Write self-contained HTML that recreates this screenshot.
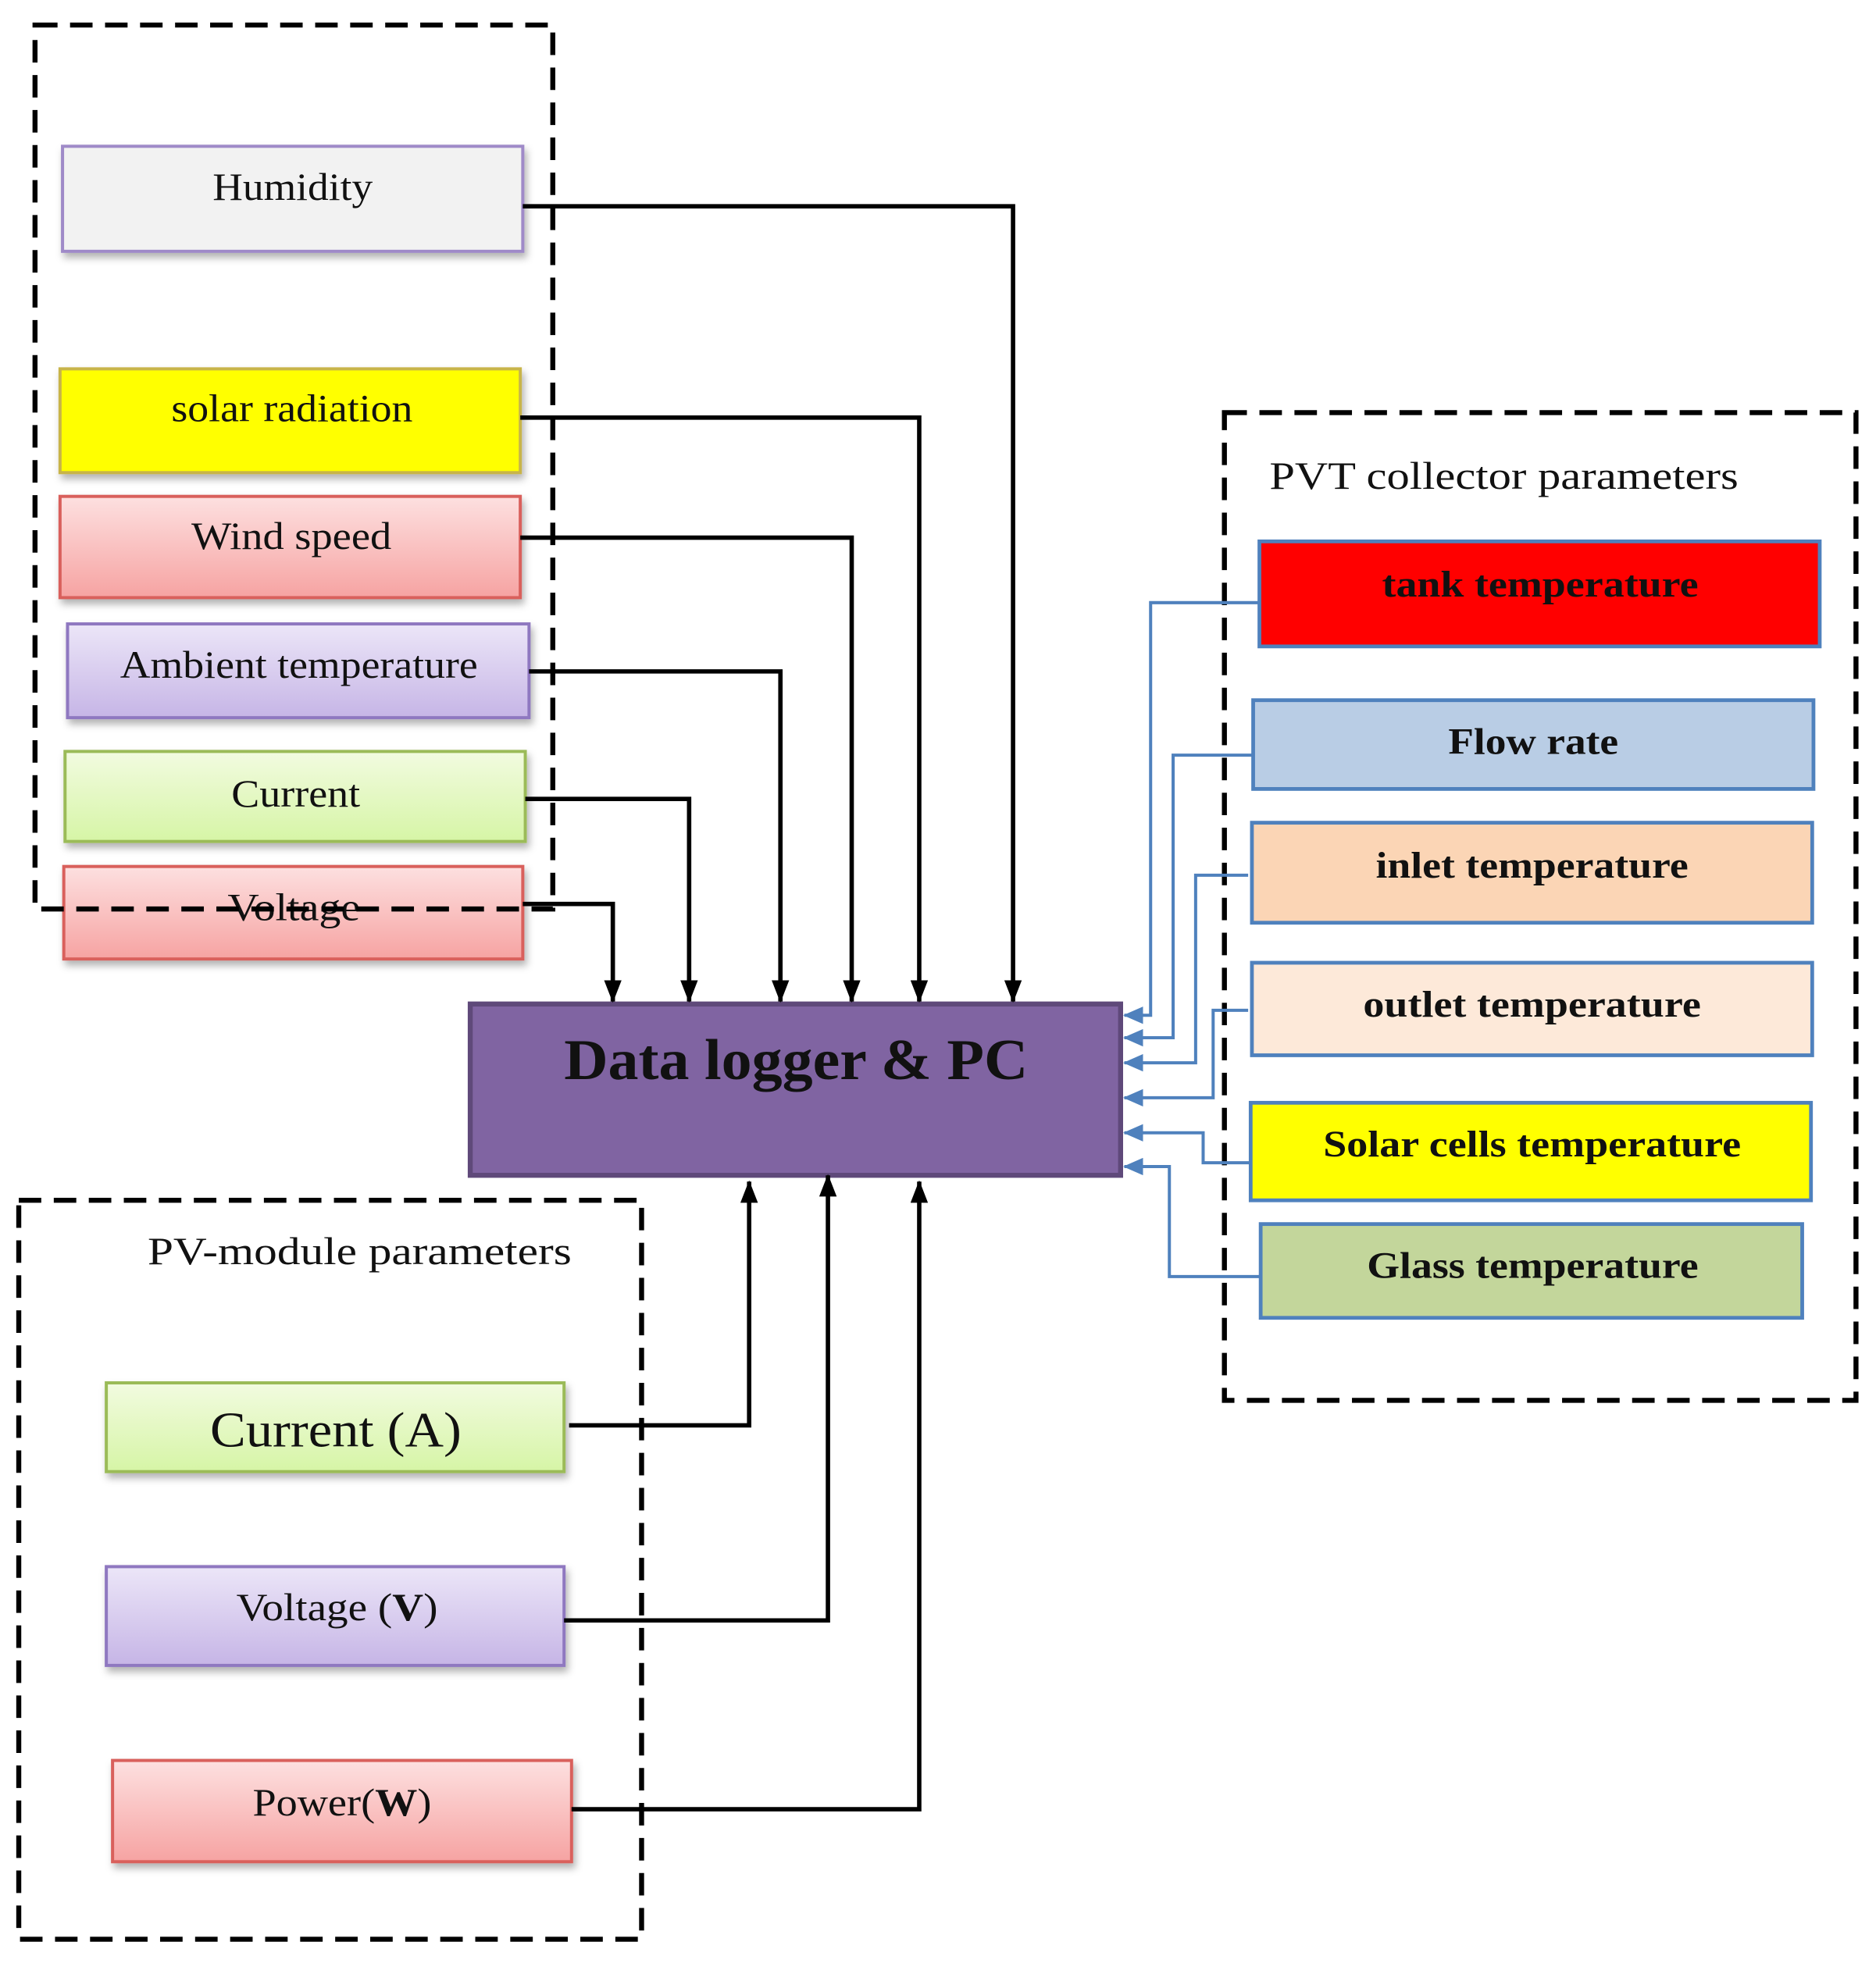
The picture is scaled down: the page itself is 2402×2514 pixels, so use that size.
<!DOCTYPE html>
<html><head><meta charset="utf-8"><style>
html,body{margin:0;padding:0;background:#fff;}
svg{display:block;}
text{font-family:"Liberation Serif",serif;}
</style></head><body>
<svg width="2402" height="2514" viewBox="0 0 1500 1570" preserveAspectRatio="none" xmlns="http://www.w3.org/2000/svg">
<defs>
<linearGradient id="pink" x1="0" y1="0" x2="0" y2="1"><stop offset="0" stop-color="#fde0e0"/><stop offset="1" stop-color="#f6a3a2"/></linearGradient>
<linearGradient id="lav" x1="0" y1="0" x2="0" y2="1"><stop offset="0" stop-color="#ece6f8"/><stop offset="1" stop-color="#c6b5e6"/></linearGradient>
<linearGradient id="grn" x1="0" y1="0" x2="0" y2="1"><stop offset="0" stop-color="#f2fbe0"/><stop offset="1" stop-color="#d6f5a6"/></linearGradient>
<filter id="sh" x="-5%" y="-10%" width="110%" height="130%"><feDropShadow dx="2" dy="4" stdDeviation="3" flood-color="#000" flood-opacity="0.3"/></filter>
<marker id="ab" markerWidth="18" markerHeight="14" refX="17" refY="7" orient="auto" markerUnits="userSpaceOnUse" viewBox="0 0 18 14"><path d="M0,0 L18,7 L0,14 z" fill="#000"/></marker>
<marker id="abl" markerWidth="16" markerHeight="14" refX="15" refY="7" orient="auto" markerUnits="userSpaceOnUse" viewBox="0 0 16 14"><path d="M0,0 L16,7 L0,14 z" fill="#4f81bd"/></marker>
</defs>

<g filter="url(#sh)" stroke-width="2.5">
<rect x="50" y="117" width="368" height="84" fill="#f2f2f2" stroke="#9f8ac8"/>
<rect x="48" y="295" width="368" height="83" fill="#ffff00" stroke="#c8b44a"/>
<rect x="48" y="397" width="368" height="81" fill="url(#pink)" stroke="#d9605c"/>
<rect x="54" y="499" width="369" height="75" fill="url(#lav)" stroke="#8f78c0"/>
<rect x="52" y="601" width="368" height="72" fill="url(#grn)" stroke="#9bbb59"/>
<rect x="51" y="693" width="367" height="74" fill="url(#pink)" stroke="#d9605c"/>
<rect x="85" y="1106" width="366" height="71" fill="url(#grn)" stroke="#9bbb59"/>
<rect x="85" y="1253" width="366" height="79" fill="url(#lav)" stroke="#8f78c0"/>
<rect x="90" y="1408" width="367" height="81" fill="url(#pink)" stroke="#d9605c"/>
</g>
<g font-size="31" fill="#111">
<text x="170" y="160" textLength="128" lengthAdjust="spacingAndGlyphs">Humidity</text>
<text x="137" y="337" textLength="193" lengthAdjust="spacingAndGlyphs">solar radiation</text>
<text x="153" y="439" textLength="160" lengthAdjust="spacingAndGlyphs">Wind speed</text>
<text x="96" y="542" textLength="286" lengthAdjust="spacingAndGlyphs">Ambient temperature</text>
<text x="185" y="645" textLength="103" lengthAdjust="spacingAndGlyphs">Current</text>
<text x="182" y="736" textLength="106" lengthAdjust="spacingAndGlyphs">Voltage</text>
<text x="168" y="1157" font-size="40" textLength="201" lengthAdjust="spacingAndGlyphs">Current (A)</text>
<text x="189" y="1296" textLength="161" lengthAdjust="spacingAndGlyphs">Voltage (<tspan font-weight="bold">V</tspan>)</text>
<text x="202" y="1452" textLength="143" lengthAdjust="spacingAndGlyphs">Power(<tspan font-weight="bold">W</tspan>)</text>
<text x="118" y="1011" textLength="339" lengthAdjust="spacingAndGlyphs">PV-module parameters</text>
<text x="1015" y="391" textLength="375" lengthAdjust="spacingAndGlyphs">PVT collector parameters</text>
</g>

<g fill="none" stroke="#000" stroke-width="4" stroke-dasharray="18,10">
<rect x="28" y="20" width="414" height="707"/>
<rect x="15" y="960" width="498" height="591"/>
<rect x="979" y="330" width="505" height="790"/>
</g>

<rect x="376" y="803" width="520" height="137" fill="#8064a2" stroke="#5f497a" stroke-width="4"/>
<text x="451" y="863" font-size="46" font-weight="bold" fill="#111" textLength="371" lengthAdjust="spacingAndGlyphs">Data logger &amp; PC</text>

<g fill="none" stroke="#000" stroke-width="3.5" marker-end="url(#ab)">
<polyline points="418,165 810,165 810,801"/>
<polyline points="416,334 735,334 735,801"/>
<polyline points="416,430 681,430 681,801"/>
<polyline points="423,537 624,537 624,801"/>
<polyline points="420,639 551,639 551,801"/>
<polyline points="418,723 490,723 490,801"/>
<polyline points="455,1140 599,1140 599,945"/>
<polyline points="451,1296 662,1296 662,940"/>
<polyline points="457,1447 735,1447 735,945"/>
</g>

<g stroke="#4f81bd" stroke-width="3">
<rect x="1007" y="433" width="448" height="84" fill="#ff0000"/>
<rect x="1002" y="560" width="448" height="71" fill="#b9cde5"/>
<rect x="1001" y="658" width="448" height="80" fill="#fbd5b5"/>
<rect x="1001" y="770" width="448" height="74" fill="#fde9d9"/>
<rect x="1000" y="882" width="448" height="78" fill="#ffff00"/>
<rect x="1008" y="979" width="433" height="75" fill="#c3d69b"/>
</g>
<g font-size="30" font-weight="bold" fill="#111">
<text x="1105" y="477" textLength="253" lengthAdjust="spacingAndGlyphs">tank temperature</text>
<text x="1158" y="603" textLength="136" lengthAdjust="spacingAndGlyphs">Flow rate</text>
<text x="1100" y="702" textLength="250" lengthAdjust="spacingAndGlyphs">inlet temperature</text>
<text x="1090" y="813" textLength="270" lengthAdjust="spacingAndGlyphs">outlet temperature</text>
<text x="1058" y="925" textLength="334" lengthAdjust="spacingAndGlyphs">Solar cells temperature</text>
<text x="1093" y="1022" textLength="265" lengthAdjust="spacingAndGlyphs">Glass temperature</text>
</g>

<g fill="none" stroke="#4f81bd" stroke-width="2.5" marker-end="url(#abl)">
<polyline points="1007,482 920,482 920,812 899,812"/>
<polyline points="1002,604 938,604 938,830 899,830"/>
<polyline points="998,700 956,700 956,850 899,850"/>
<polyline points="998,808 970,808 970,878 899,878"/>
<polyline points="1000,930 962,930 962,906 899,906"/>
<polyline points="1008,1021 935,1021 935,933 899,933"/>
</g>
</svg>
</body></html>
